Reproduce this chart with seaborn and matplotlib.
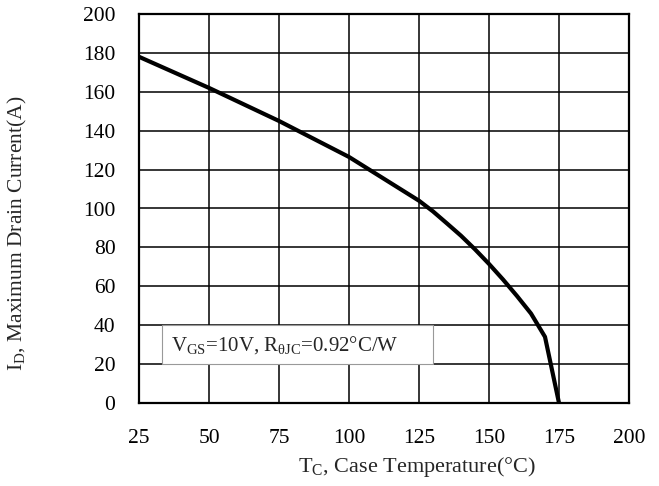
import matplotlib
matplotlib.use("Agg")
import matplotlib.pyplot as plt
import seaborn as sns
import pandas as pd
from matplotlib.patches import Rectangle

# Data
temperature = [25, 50, 75, 100, 125, 130, 135, 140, 145, 150, 155, 160, 165, 170, 175]
drain_current = [178, 162, 145, 126.5, 104, 98.5, 92.3, 86, 79, 71.5, 63.5, 55, 46, 34, 0]
x_ticks = [25, 50, 75, 100, 125, 150, 175, 200]
y_ticks = [0, 20, 40, 60, 80, 100, 120, 140, 160, 180, 200]

sns.set_style("white")
plt.rcParams['font.family'] = ['Liberation Serif', 'DejaVu Serif']
plt.rcParams['mathtext.fontset'] = 'custom'
plt.rcParams['mathtext.rm'] = 'Liberation Serif'
plt.rcParams['mathtext.it'] = 'Liberation Serif'
plt.rcParams['mathtext.bf'] = 'Liberation Serif'

df = pd.DataFrame({"Tc": temperature, "Id": drain_current})

fig = plt.figure(figsize=(6.59, 4.86), dpi=100)
ax = fig.add_axes([139/659, 1 - 403/486, (629 - 139)/659, (403 - 14)/486])

sns.lineplot(data=df, x="Tc", y="Id", ax=ax, color="black", linewidth=3.0,
             sort=False, zorder=5)

ax.set_xlim(25, 200)
ax.set_ylim(0, 200)
ax.set_xticks(x_ticks)
ax.set_yticks(y_ticks)
ax.set_xticklabels([str(t) for t in x_ticks])
ax.set_yticklabels([str(t) for t in y_ticks])
ax.tick_params(axis='both', length=0, labelsize=15.5, colors='black')
ax.tick_params(axis='y', pad=17)
ax.tick_params(axis='x', pad=19)
ax.grid(True, color='black', linewidth=1.1)
ax.set_axisbelow(True)
for s in ax.spines.values():
    s.set_color('black')
    s.set_linewidth(1.6)
    s.set_zorder(6)

ax.set_xlabel(r"T$_{\mathrm{C}}$, Case Temperature(°C)", fontsize=16)
ax.set_ylabel(r"I$_{\mathrm{D}}$, Maximum Drain Current(A)", fontsize=15.5)
ax.xaxis.label.set_va('center')
ax.xaxis.label.set_ha('center')
ax.xaxis.set_label_coords((417 - 139) / 490, -(467 - 403) / 389)
ax.yaxis.label.set_va('center')
ax.yaxis.label.set_ha('center')
ax.yaxis.set_label_coords((17 - 139) / 490, (403 - 233) / 389)

# Annotation box
ax.add_patch(Rectangle((33.2, 20), 96.8, 20, facecolor='white', edgecolor='#999999',
                       linewidth=0.8, zorder=3))
ax.text(36.5, 30, r"V$_{\mathrm{GS}}$=10V, R$_{\mathrm{\theta JC}}$=0.92°C/W",
        fontsize=15, va='center', ha='left', zorder=4)

fig.savefig("out.png", dpi=100)
